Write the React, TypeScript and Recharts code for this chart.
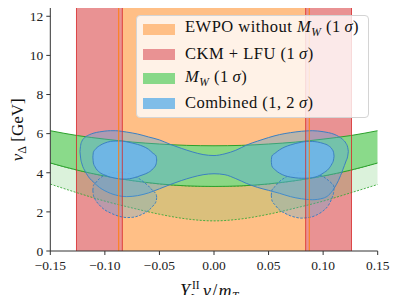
import React from 'react';
import {
  ComposedChart, Area, XAxis, YAxis, ReferenceArea, ReferenceLine, Legend
} from 'recharts';

// axes
const xTicks = [-0.15, -0.1, -0.05, 0, 0.05, 0.1, 0.15];
const yTicks = [0, 2, 4, 6, 8, 10, 12];

// vertical bands
const ewpoBand = [-0.0873, 0.0873];
const ckmBands = [[-0.126, -0.084], [0.084, 0.126]];

// M_W band (solid 1 sigma) and its dashed lower extension
const mwX = [-0.15, -0.125, -0.1, -0.075, -0.05, -0.025, 0, 0.025, 0.05, 0.075, 0.1, 0.125, 0.15];
const mwUpper = [6.15, 5.9, 5.72, 5.57, 5.47, 5.4, 5.38, 5.4, 5.47, 5.57, 5.72, 5.9, 6.15];
const mwLower = [4.5, 4.13, 3.83, 3.6, 3.43, 3.33, 3.3, 3.33, 3.43, 3.6, 3.83, 4.13, 4.5];
const mwDashed = [3.42, 2.97, 2.55, 2.2, 1.88, 1.64, 1.54, 1.64, 1.88, 2.2, 2.55, 2.97, 3.4];

// combined 2 sigma (butterfly)
const comb2X = [-0.1228, -0.1222, -0.121, -0.118, -0.114, -0.11, -0.105, -0.1, -0.095, -0.09, -0.085, -0.08,
  -0.07, -0.06, -0.05, -0.04, -0.03, -0.02, -0.01, 0, 0.01, 0.02, 0.03, 0.04, 0.05, 0.06, 0.07, 0.08,
  0.09, 0.1, 0.105, 0.11, 0.114, 0.118, 0.121, 0.1225, 0.1231];
const comb2Low = [5.09, 4.75, 4.45, 4.07, 3.72, 3.5, 3.25, 3.08, 2.95, 2.86, 2.8, 2.78,
  2.83, 2.97, 3.18, 3.4, 3.6, 3.77, 3.9, 3.95, 3.9, 3.7, 3.45, 3.25, 3.1, 2.95, 2.78, 2.67,
  2.62, 2.7, 2.85, 3.2, 3.6, 4.15, 4.6, 4.85, 5.09];
const comb2High = [5.09, 5.4, 5.62, 5.82, 5.95, 6.03, 6.09, 6.13, 6.15, 6.15, 6.12, 6.08,
  5.98, 5.83, 5.68, 5.45, 5.25, 5.07, 4.93, 4.88, 4.97, 5.15, 5.42, 5.62, 5.8, 5.95, 6.05, 6.12,
  6.15, 6.1, 6.05, 5.97, 5.86, 5.7, 5.5, 5.3, 5.09];

// combined 1 sigma ellipses
const comb1LX = [-0.111, -0.1105, -0.109, -0.105, -0.1, -0.095, -0.09, -0.085, -0.08, -0.075, -0.07, -0.065, -0.06, -0.056, -0.053, -0.0525];
const comb1LLow = [4.8, 4.5, 4.3, 4.03, 3.88, 3.78, 3.72, 3.68, 3.68, 3.72, 3.8, 3.9, 4.02, 4.2, 4.45, 4.65];
const comb1LHigh = [4.8, 5.05, 5.18, 5.38, 5.52, 5.6, 5.62, 5.62, 5.58, 5.52, 5.45, 5.35, 5.2, 5.0, 4.85, 4.65];
const comb1RX = [0.0525, 0.053, 0.056, 0.06, 0.065, 0.07, 0.075, 0.08, 0.085, 0.09, 0.095, 0.1, 0.105, 0.108, 0.1095, 0.11];
const comb1RLow = [4.6, 4.35, 4.15, 3.98, 3.85, 3.78, 3.74, 3.72, 3.72, 3.75, 3.82, 3.98, 4.2, 4.45, 4.65, 4.85];
const comb1RHigh = [4.6, 4.85, 5.0, 5.17, 5.32, 5.42, 5.5, 5.56, 5.6, 5.6, 5.57, 5.5, 5.38, 5.22, 5.05, 4.85];

// dashed ellipses
const dashLX = [-0.111, -0.1105, -0.109, -0.105, -0.1, -0.095, -0.09, -0.085, -0.08, -0.075, -0.07, -0.065, -0.06, -0.056, -0.053, -0.0525];
const dashLLow = [3.1, 2.85, 2.65, 2.35, 2.1, 1.95, 1.83, 1.75, 1.71, 1.72, 1.78, 1.9, 2.07, 2.3, 2.55, 2.75];
const dashLHigh = [3.1, 3.35, 3.45, 3.7, 3.88, 3.98, 4.03, 4.02, 3.98, 3.9, 3.75, 3.55, 3.32, 3.08, 2.9, 2.75];
const dashRX = [0.0525, 0.053, 0.056, 0.06, 0.065, 0.07, 0.075, 0.08, 0.085, 0.09, 0.095, 0.1, 0.105, 0.108, 0.1095, 0.11];
const dashRLow = [2.85, 2.6, 2.35, 2.1, 1.93, 1.8, 1.72, 1.68, 1.7, 1.75, 1.87, 2.05, 2.35, 2.7, 2.95, 3.2];
const dashRHigh = [2.85, 3.1, 3.3, 3.55, 3.75, 3.9, 3.98, 4.03, 4.03, 4.0, 3.92, 3.8, 3.6, 3.45, 3.35, 3.2];

const serif = '"Liberation Serif", "Times New Roman", Tinos, "DejaVu Serif", serif';

const zipRange = (xs: number[], lo: number[], hi: number[]) =>
  xs.map((x, i) => ({ x, r: [lo[i], hi[i]] }));

const legendItems = [
  { color: '#ffbf86', label: <>EWPO without <i>M</i><sub style={{ fontSize: 11.5, fontStyle: 'italic' }}>W</sub> (1<i>&thinsp;σ</i>)</> },
  { color: '#e99293', label: <>CKM + LFU (1<i>&thinsp;σ</i>)</> },
  { color: '#88d888', label: <><i>M</i><sub style={{ fontSize: 11.5, fontStyle: 'italic' }}>W</sub> (1<i>&thinsp;σ</i>)</> },
  { color: '#80bde8', label: <>Combined (1, 2<i>&thinsp;σ</i>)</> },
];

const LegendBox = () => (
  <div style={{
    width: 233, height: 103, boxSizing: 'border-box', background: 'rgba(255,255,255,0.8)',
    border: '1px solid #d4d4d4', borderRadius: 4, fontFamily: serif, fontSize: 16.5,
    color: '#111', padding: '1px 0 0 6px'
  }}>
    {legendItems.map((item, i) => (
      <div key={i} style={{ display: 'flex', alignItems: 'center', height: 24.7, whiteSpace: 'nowrap', letterSpacing: 0.5 }}>
        <span style={{ display: 'inline-block', width: 32, height: 11, background: item.color, marginRight: 10, flexShrink: 0 }} />
        <span style={{ lineHeight: 1 }}>{item.label}</span>
      </div>
    ))}
  </div>
);

// x label: Y_L^II v/m_T, pieces placed side by side so the super/subscripts stack
const XLabel = (props: any) => {
  const vb = props.viewBox || {};
  const x0 = vb.x + vb.width / 2 - 34;
  const base = 296.5;
  const common = { style: { fontFamily: serif }, fill: '#111' };
  return (
    <g>
      <text x={x0} y={base} fontSize={18} fontStyle="italic" {...common}>Y</text>
      <text x={x0 + 12} y={base - 8} fontSize={11.5} {...common}>II</text>
      <text x={x0 + 10} y={base + 5.5} fontSize={11.5} fontStyle="italic" {...common}>L</text>
      <text x={x0 + 23} y={base} fontSize={18} letterSpacing={1.2} {...common}>
        <tspan fontStyle="italic">v</tspan>
        <tspan>/</tspan>
        <tspan fontStyle="italic">m</tspan>
      </text>
      <text x={x0 + 52} y={base + 3} fontSize={11.5} fontStyle="italic" {...common}>T</text>
    </g>
  );
};

const YLabel = (props: any) => {
  const vb = props.viewBox || {};
  const cy = vb.y + vb.height / 2 + 1;
  const lx = 23;
  return (
    <text x={lx} y={cy} transform={`rotate(-90, ${lx}, ${cy})`} textAnchor="middle" style={{ fontFamily: serif }} fontSize={17} fill="#111">
      <tspan fontStyle="italic">v</tspan>
      <tspan fontSize={12} dy={3}>Δ</tspan>
      <tspan dy={-3}> [GeV]</tspan>
    </text>
  );
};

const tickStyle = { fontSize: 13.5, fill: '#222', style: { fontFamily: serif } };
const fmtX = (v: number) => v.toFixed(2).replace('-', '\u2212');

export default function App() {
  return (
    <div style={{ margin: -8, width: 398, height: 303, fontFamily: serif }}>
      <ComposedChart width={398} height={303} margin={{ top: 6.5, right: 20.3, bottom: 0, left: 0 }}>
        <XAxis dataKey="x" type="number" domain={[-0.15, 0.15]} ticks={xTicks} tickFormatter={fmtX}
          allowDataOverflow height={52} tickSize={4} tickMargin={5} tick={tickStyle}
          stroke="#333" label={{ content: (p: any) => <XLabel {...p} /> }} />
        <XAxis xAxisId="top" orientation="top" type="number" domain={[-0.15, 0.15]} height={0}
          tick={false} tickLine={false} stroke="#333" />
        <YAxis type="number" domain={[0, 12.5]} ticks={yTicks} allowDataOverflow width={50.3}
          tickSize={4} tickMargin={3} tick={tickStyle} stroke="#333"
          label={{ content: (p: any) => <YLabel {...p} /> }} />
        <YAxis yAxisId="right" orientation="right" type="number" domain={[0, 12.5]} width={0}
          tick={false} tickLine={false} stroke="#333" />

        <ReferenceArea x1={ewpoBand[0]} x2={ewpoBand[1]} y1={0} y2={12.5} fill="#ffbf86" fillOpacity={1} stroke="none" />
        {ckmBands.map((b, i) => (
          <ReferenceArea key={i} x1={b[0]} x2={b[1]} y1={0} y2={12.5} fill="#e99293" fillOpacity={1} stroke="none" />
        ))}

        <Area data={zipRange(mwX, mwDashed, mwLower)} dataKey="r" type="monotone" fill="#5cc45c" fillOpacity={0.22}
          stroke="#3aa83a" strokeWidth={0.9} strokeDasharray="2 1.5" isAnimationActive={false} />
        <Area data={zipRange(mwX, mwLower, mwUpper)} dataKey="r" type="monotone" fill="#84d884" fillOpacity={0.95}
          stroke="#2ca02c" strokeWidth={1} isAnimationActive={false} />

        <Area data={zipRange(comb2X, comb2Low, comb2High)} dataKey="r" type="monotone" fill="#56a8e0" fillOpacity={0.4}
          stroke="#3c80c2" strokeWidth={1} isAnimationActive={false} />
        <Area data={zipRange(dashLX, dashLLow, dashLHigh)} dataKey="r" type="monotone" fill="#56a8e0" fillOpacity={0.3}
          stroke="#3c80c2" strokeWidth={1} strokeDasharray="2.5 1.5" isAnimationActive={false} />
        <Area data={zipRange(dashRX, dashRLow, dashRHigh)} dataKey="r" type="monotone" fill="#56a8e0" fillOpacity={0.3}
          stroke="#3c80c2" strokeWidth={1} strokeDasharray="2.5 1.5" isAnimationActive={false} />
        <Area data={zipRange(comb1LX, comb1LLow, comb1LHigh)} dataKey="r" type="monotone" fill="#6fb5ea" fillOpacity={0.9}
          stroke="#3c80c2" strokeWidth={1} isAnimationActive={false} />
        <Area data={zipRange(comb1RX, comb1RLow, comb1RHigh)} dataKey="r" type="monotone" fill="#6fb5ea" fillOpacity={0.9}
          stroke="#3c80c2" strokeWidth={1} isAnimationActive={false} />

        <ReferenceLine x={ewpoBand[0]} stroke="#ff7f0e" strokeWidth={1} />
        <ReferenceLine x={ewpoBand[1]} stroke="#ff7f0e" strokeWidth={1} />
        {ckmBands.flat().map((v, i) => (
          <ReferenceLine key={'c' + i} x={v} stroke="#d62728" strokeWidth={1} strokeOpacity={0.8} />
        ))}

        <Legend verticalAlign="middle" align="center" layout="horizontal"
          wrapperStyle={{ left: 136, top: 15, width: 233, height: 103 }}
          content={() => <LegendBox />} />
      </ComposedChart>
    </div>
  );
}
